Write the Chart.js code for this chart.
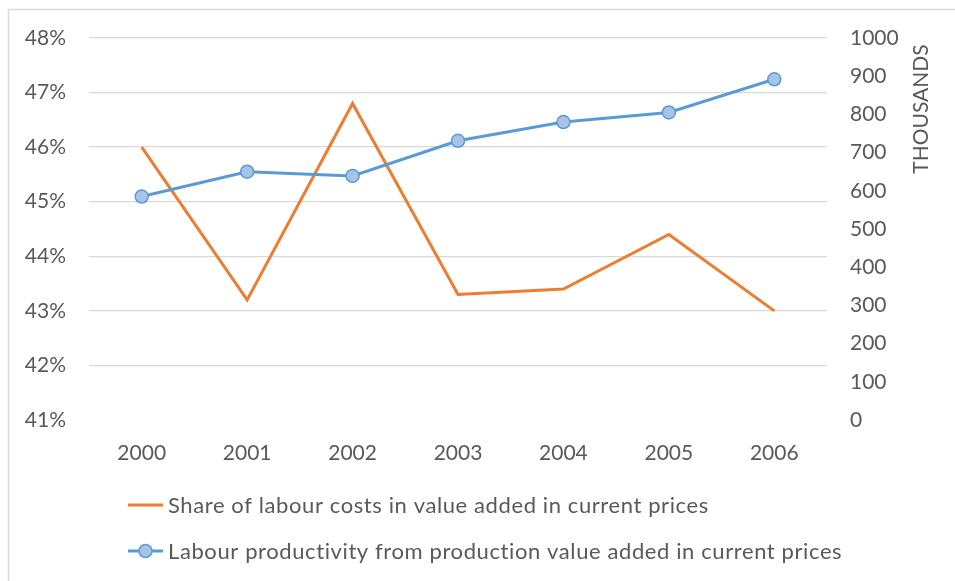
<!DOCTYPE html>
<html>
<head>
<meta charset="utf-8">
<script src="https://cdn.jsdelivr.net/npm/chart.js"></script>
<style>
  html, body { margin: 0; padding: 0; background: #fff; }
  #wrap { width: 955px; height: 581px; }
</style>
</head>
<body>
<div id="wrap"><canvas id="myChart" width="955" height="581"></canvas></div>
<script>
    // years on the category axis
    let years = ['2000', '2001', '2002', '2003', '2004', '2005', '2006'];

    // share of labour costs, percent (left axis)
    let labourShare = [46.0, 43.2, 46.8, 43.3, 43.4, 44.4, 43.0];

    // labour productivity, thousands (right axis)
    let productivity = [585, 650, 639, 731, 780, 805, 892];

    let shareLabel = 'Share of labour costs in value added in current prices';
    let prodLabel = 'Labour productivity from production value added in current prices';
    let rightTitle = 'THOUSANDS';

    const textColor = '#595959';
    const gridColor = '#D9D9D9';
    const orange = '#ED7D31';
    const blue = '#5B9BD5';
    const markerFill = '#A7C3E8';
    const fontFamily = 'Lato, "Open Sans", sans-serif';

    // white page and the light frame around the chart
    const framePlugin = {
        id: 'frame',
        beforeDraw(chart) {
            const c = chart.ctx;
            c.save();
            c.fillStyle = '#fff';
            c.fillRect(0, 0, chart.width, chart.height);
            c.strokeStyle = gridColor;
            c.lineWidth = 1.5;
            c.strokeRect(8.5, 9.5, 2000, 2000);
            c.restore();
        }
    };

    // rotated title of the right axis and the two-row legend underneath
    const extrasPlugin = {
        id: 'extras',
        afterDraw(chart) {
            const c = chart.ctx;
            c.save();
            c.fillStyle = textColor;
            c.font = '21px ' + fontFamily;

            c.translate(921, 109);
            c.rotate(-Math.PI / 2);
            c.textAlign = 'center';
            c.textBaseline = 'middle';
            c.fillText(rightTitle, 0, 0);
            c.setTransform(1, 0, 0, 1, 0, 0);

            c.font = '22px ' + fontFamily;
            c.letterSpacing = '0.6px';
            c.textAlign = 'left';
            c.textBaseline = 'middle';

            // row 1: plain orange line
            c.strokeStyle = orange;
            c.lineWidth = 3;
            c.beginPath();
            c.moveTo(128, 505);
            c.lineTo(163, 505);
            c.stroke();
            c.fillText(shareLabel, 168, 506);

            // row 2: blue line with a marker
            c.strokeStyle = blue;
            c.beginPath();
            c.moveTo(128, 551);
            c.lineTo(163, 551);
            c.stroke();
            c.beginPath();
            c.arc(145.5, 551, 6.5, 0, Math.PI * 2);
            c.fillStyle = markerFill;
            c.fill();
            c.lineWidth = 1.5;
            c.stroke();
            c.fillStyle = textColor;
            c.fillText(prodLabel, 168, 552);
            c.restore();
        }
    };

    var ctx = document.getElementById('myChart').getContext('2d');

    var myChart = new Chart(ctx, {
        type: 'line',
        data: {
            labels: years,
            datasets: [{
                label: shareLabel,
                data: labourShare,
                yAxisID: 'y',
                borderColor: orange,
                borderWidth: 3,
                pointRadius: 0,
                tension: 0,
                order: 1
            }, {
                label: prodLabel,
                data: productivity,
                yAxisID: 'y2',
                borderColor: blue,
                borderWidth: 3,
                pointRadius: 6.5,
                pointBackgroundColor: markerFill,
                pointBorderColor: blue,
                pointBorderWidth: 1.5,
                tension: 0,
                order: 0
            }]
        },
        options: {
            responsive: false,
            animation: false,
            devicePixelRatio: 1,
            layout: { padding: { top: 38, left: 0, right: 0, bottom: 0 } },
            plugins: {
                legend: { display: false },
                tooltip: { enabled: false }
            },
            scales: {
                x: {
                    offset: true,
                    grid: { display: false },
                    border: { display: false },
                    ticks: {
                        color: textColor,
                        font: { family: fontFamily, size: 21 },
                        padding: 13,
                        maxRotation: 0,
                        autoSkip: false
                    },
                    afterFit(scale) { scale.height = 161; }
                },
                y: {
                    position: 'left',
                    min: 41,
                    max: 48,
                    border: { display: false },
                    grid: {
                        drawTicks: false,
                        lineWidth: 1.3,
                        color: (c) => c.tick && c.tick.value === 41 ? 'rgba(0,0,0,0)' : gridColor
                    },
                    ticks: {
                        stepSize: 1,
                        color: textColor,
                        font: { family: fontFamily, size: 21 },
                        padding: 23,
                        callback: (v) => v + '%'
                    },
                    afterFit(scale) { scale.width = 89; }
                },
                y2: {
                    position: 'right',
                    min: 0,
                    max: 1000,
                    border: { display: false },
                    grid: { display: false, drawTicks: false },
                    ticks: {
                        stepSize: 100,
                        color: textColor,
                        font: { family: fontFamily, size: 21 },
                        padding: 23,
                        callback: (v) => String(v)
                    },
                    afterFit(scale) { scale.width = 128; }
                }
            }
        },
        plugins: [framePlugin, extrasPlugin]
    });
</script>
</body>
</html>
